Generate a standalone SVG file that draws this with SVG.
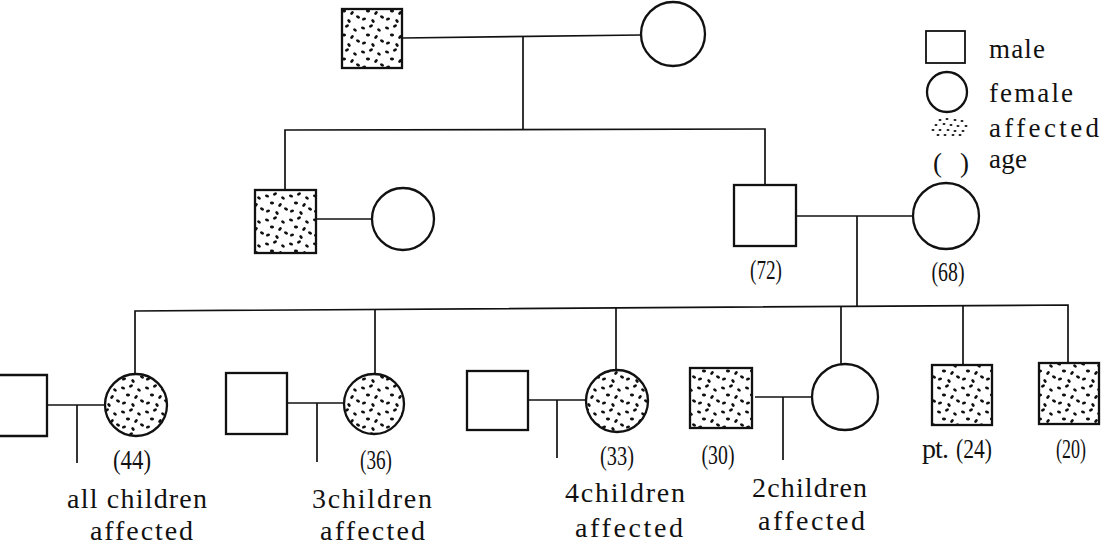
<svg xmlns="http://www.w3.org/2000/svg" width="1105" height="551" viewBox="0 0 1105 551">
<style>
.sym{fill:#fff;stroke:#111;stroke-width:2.3}
.aff{fill:url(#dots);stroke:#111;stroke-width:2.3}
.ln{fill:none;stroke:#111;stroke-width:1.7}
.t{font-family:"Liberation Serif",serif;font-size:28px;fill:#111}
.lg{font-family:"Liberation Serif",serif;font-size:27px;fill:#111}
.age{font-family:"Liberation Serif",serif;font-size:28px;fill:#111}
</style>
<defs>
<pattern id="dots" patternUnits="userSpaceOnUse" width="24" height="24">
<rect width="24" height="24" fill="#fff"/>
<g fill="#111">
<ellipse cx="3" cy="4" rx="2.1" ry="1.4" transform="rotate(20 3 4)"/>
<ellipse cx="11" cy="2" rx="2.1" ry="1.4" transform="rotate(-30 11 2)"/>
<ellipse cx="19" cy="6" rx="2.1" ry="1.4" transform="rotate(40 19 6)"/>
<ellipse cx="8" cy="11" rx="2.1" ry="1.4" transform="rotate(10 8 11)"/>
<ellipse cx="16" cy="13" rx="2.1" ry="1.4" transform="rotate(-45 16 13)"/>
<ellipse cx="22" cy="17" rx="2.1" ry="1.4" transform="rotate(30 22 17)"/>
<ellipse cx="4" cy="19" rx="2.1" ry="1.4" transform="rotate(-20 4 19)"/>
<ellipse cx="13" cy="21" rx="2.1" ry="1.4" transform="rotate(50 13 21)"/>
</g>
</pattern>
</defs>

<g id="connectors">
<line class="ln" x1="402" y1="38" x2="641" y2="35"/>
<line class="ln" x1="523" y1="37" x2="523" y2="130"/>
<polyline class="ln" points="285,190 285,130 765,129 765,185"/>
<line class="ln" x1="316" y1="219" x2="372" y2="219"/>
<line class="ln" x1="796" y1="216" x2="913" y2="216"/>
<line class="ln" x1="857" y1="216" x2="857" y2="307"/>
<polyline class="ln" points="135,374 135,311 1068,305 1068,363"/>
<line class="ln" x1="375" y1="310" x2="375" y2="374"/>
<line class="ln" x1="616" y1="308" x2="616" y2="370"/>
<line class="ln" x1="841" y1="307" x2="841" y2="364"/>
<line class="ln" x1="963" y1="306" x2="963" y2="365"/>
<line class="ln" x1="47" y1="405" x2="105" y2="405"/>
<line class="ln" x1="77" y1="405" x2="77" y2="463"/>
<line class="ln" x1="287" y1="403" x2="344" y2="403"/>
<line class="ln" x1="317" y1="403" x2="317" y2="462"/>
<line class="ln" x1="528" y1="400" x2="586" y2="400"/>
<line class="ln" x1="557" y1="400" x2="557" y2="458"/>
<line class="ln" x1="755" y1="397" x2="812" y2="397"/>
<line class="ln" x1="783" y1="397" x2="783" y2="460"/>
</g>

<g id="gen1-father"><rect class="aff" x="342" y="9" width="60" height="59"/></g>
<g id="gen1-mother"><circle class="sym" cx="673" cy="34" r="32"/></g>

<g id="gen2-son"><rect class="aff" x="255" y="190" width="61" height="63"/></g>
<g id="gen2-son-wife"><circle class="sym" cx="403" cy="219" r="31"/></g>
<g id="gen2-father"><rect class="sym" x="734" y="185" width="62" height="61"/><text class="age" x="766" y="279" text-anchor="middle" textLength="32" lengthAdjust="spacingAndGlyphs">(72)</text></g>
<g id="gen2-mother"><circle class="sym" cx="946" cy="216" r="33"/><text class="age" x="948" y="281" text-anchor="middle" textLength="33" lengthAdjust="spacingAndGlyphs">(68)</text></g>

<g id="c1-husband"><path class="ln" style="stroke-width:2.3" d="M0,375 H47 V436 H0"/></g>
<g id="c1"><circle class="aff" cx="136" cy="405" r="31"/>
<text class="age" x="132" y="469" text-anchor="middle" textLength="38" lengthAdjust="spacingAndGlyphs">(44)</text>
<text class="t" x="67" y="508" textLength="140" lengthAdjust="spacing">all children</text>
<text class="t" x="90" y="540" textLength="103" lengthAdjust="spacing">affected</text></g>

<g id="c2-husband"><rect class="sym" x="226" y="373" width="61" height="61"/></g>
<g id="c2"><circle class="aff" cx="374" cy="404" r="30"/>
<text class="age" x="376" y="469" text-anchor="middle" textLength="32" lengthAdjust="spacingAndGlyphs">(36)</text>
<text class="t" x="312" y="508" textLength="120" lengthAdjust="spacing">3children</text>
<text class="t" x="320" y="540" textLength="105" lengthAdjust="spacing">affected</text></g>

<g id="c3-husband"><rect class="sym" x="467" y="371" width="61" height="59"/></g>
<g id="c3"><circle class="aff" cx="617" cy="401" r="31"/>
<text class="age" x="617" y="465" text-anchor="middle" textLength="34" lengthAdjust="spacingAndGlyphs">(33)</text>
<text class="t" x="565" y="502" textLength="120" lengthAdjust="spacing">4children</text>
<text class="t" x="575" y="537" textLength="108" lengthAdjust="spacing">affected</text></g>

<g id="c4"><rect class="aff" x="690" y="368" width="62" height="60"/>
<text class="age" x="718" y="464" text-anchor="middle" textLength="33" lengthAdjust="spacingAndGlyphs">(30)</text></g>
<g id="c4-wife"><circle class="sym" cx="845" cy="397" r="33"/>
<text class="t" x="752" y="497" textLength="115" lengthAdjust="spacing">2children</text>
<text class="t" x="758" y="530" textLength="107" lengthAdjust="spacing">affected</text></g>

<g id="c5-patient"><rect class="aff" x="932" y="365" width="60" height="60"/>
<text class="t" x="922" y="458" textLength="27" lengthAdjust="spacing">pt.</text>
<text class="age" x="974" y="458" text-anchor="middle" textLength="36" lengthAdjust="spacingAndGlyphs">(24)</text></g>

<g id="c6"><rect class="aff" x="1039" y="363" width="60" height="61"/>
<text class="age" x="1071" y="458" text-anchor="middle" textLength="30" lengthAdjust="spacingAndGlyphs">(20)</text></g>

<g id="legend">
<rect class="sym" x="926" y="31" width="39" height="32" style="stroke-width:1.8"/>
<text class="lg" x="989" y="58" textLength="56" lengthAdjust="spacing">male</text>
<circle class="sym" cx="947" cy="92" r="20"/>
<text class="lg" x="989" y="102" textLength="84" lengthAdjust="spacing">female</text>
<g fill="#111">
<ellipse cx="940" cy="120" rx="1.5" ry="1"/><ellipse cx="947" cy="119" rx="1.5" ry="1"/><ellipse cx="955" cy="120" rx="1.5" ry="1"/><ellipse cx="962" cy="121" rx="1.5" ry="1"/>
<ellipse cx="936" cy="125" rx="1.5" ry="1"/><ellipse cx="944" cy="124" rx="1.5" ry="1"/><ellipse cx="951" cy="125" rx="1.5" ry="1"/><ellipse cx="958" cy="126" rx="1.5" ry="1"/><ellipse cx="966" cy="126" rx="1.5" ry="1"/>
<ellipse cx="933" cy="130" rx="1.5" ry="1"/><ellipse cx="940" cy="130" rx="1.5" ry="1"/><ellipse cx="948" cy="130" rx="1.5" ry="1"/><ellipse cx="955" cy="131" rx="1.5" ry="1"/><ellipse cx="963" cy="131" rx="1.5" ry="1"/>
<ellipse cx="938" cy="135" rx="1.5" ry="1"/><ellipse cx="945" cy="135" rx="1.5" ry="1"/><ellipse cx="953" cy="135" rx="1.5" ry="1"/><ellipse cx="960" cy="135" rx="1.5" ry="1"/>
</g>
<text class="lg" x="989" y="137" textLength="110" lengthAdjust="spacing">affected</text>
<text class="lg" x="933" y="172">(</text>
<text class="lg" x="960" y="172">)</text>
<text class="lg" x="989" y="168" textLength="38" lengthAdjust="spacing">age</text>
</g>
</svg>
